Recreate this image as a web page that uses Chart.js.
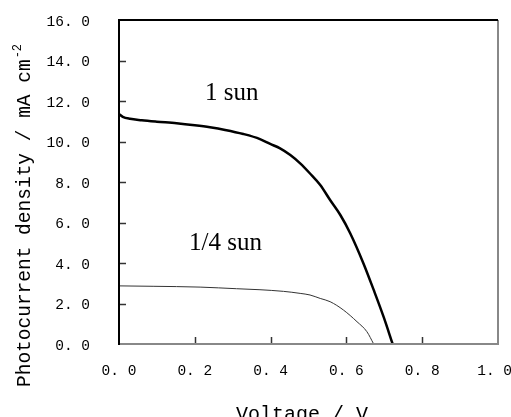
<!DOCTYPE html>
<html>
<head>
<meta charset="utf-8">
<script src="https://cdn.jsdelivr.net/npm/chart.js@4"></script>
<style>
  html, body { margin: 0; padding: 0; background: #fff; }
  #wrap { width: 511px; height: 417px; position: relative; }
</style>
</head>
<body>
<div id="wrap"><canvas id="jv"></canvas></div>
<script>
// Data
const fullSunV = [0, 0.01, 0.029, 0.06, 0.1, 0.152, 0.2, 0.24, 0.28, 0.328, 0.372, 0.399, 0.425, 0.452, 0.478, 0.504, 0.531, 0.557, 0.584, 0.61, 0.645, 0.672, 0.698, 0.722];
const fullSunJ = [11.36, 11.22, 11.12, 11.05, 10.98, 10.9, 10.8, 10.7, 10.57, 10.37, 10.12, 9.88, 9.66, 9.33, 8.92, 8.42, 7.85, 7.11, 6.37, 5.47, 3.98, 2.67, 1.35, 0.0];
const quarterSunV = [0, 0.09, 0.214, 0.31, 0.372, 0.434, 0.478, 0.504, 0.531, 0.557, 0.592, 0.628, 0.654, 0.672];
const quarterSunJ = [2.87, 2.85, 2.81, 2.73, 2.68, 2.6, 2.5, 2.42, 2.25, 2.09, 1.68, 1.1, 0.61, 0.0];

const xTicks = [0, 0.2, 0.4, 0.6, 0.8, 1.0];
const yTicks = [0, 2, 4, 6, 8, 10, 12, 14, 16];
const xTitle = 'Voltage / V';
const yTitle = 'Photocurrent density / mA cm';
const yTitleSup = '-2';
const curveLabels = ['1 sun', '1/4 sun'];

const monoFont = '"Liberation Mono", "DejaVu Sans Mono", monospace';
const serifFont = '"Liberation Serif", "Times New Roman", serif';

const toPoints = (xs, ys) => xs.map((x, i) => ({ x: x, y: ys[i] }));
const fmt = v => v.toFixed(1).replace('.', '. ');

// Frame, inner ticks, x tick labels, titles and curve labels
const decorations = {
    id: 'decorations',
    afterDatasetsDraw(chart) {
        const { ctx, chartArea: a, scales, width } = chart;
        const xs = scales.x, ys = scales.y;
        ctx.save();

        // inner tick marks
        ctx.strokeStyle = '#333';
        ctx.lineWidth = 1.5;
        yTicks.slice(1, -1).forEach(v => {
            const py = Math.round(ys.getPixelForValue(v)) + 0.5;
            ctx.beginPath(); ctx.moveTo(a.left, py); ctx.lineTo(a.left + 7, py); ctx.stroke();
        });
        xTicks.slice(1, -1).forEach(v => {
            const px = Math.round(xs.getPixelForValue(v)) + 0.5;
            ctx.beginPath(); ctx.moveTo(px, a.bottom); ctx.lineTo(px, a.bottom - 7); ctx.stroke();
        });

        // box
        ctx.lineWidth = 2;
        ctx.strokeStyle = '#888';
        ctx.beginPath(); ctx.moveTo(a.left, a.bottom); ctx.lineTo(a.right, a.bottom); ctx.lineTo(a.right, a.top); ctx.stroke();
        ctx.strokeStyle = '#000';
        ctx.beginPath(); ctx.moveTo(a.right, a.top); ctx.lineTo(a.left, a.top); ctx.lineTo(a.left, a.bottom + 1); ctx.stroke();

        // x tick labels (kept inside the canvas at the right edge)
        ctx.fillStyle = '#000';
        ctx.font = '14.5px ' + monoFont;
        ctx.textAlign = 'center';
        ctx.textBaseline = 'middle';
        xTicks.forEach(v => {
            const label = fmt(v);
            const half = ctx.measureText(label).width / 2;
            const px = Math.min(xs.getPixelForValue(v), width - half + 1);
            ctx.fillText(label, px, 371);
        });

        // curve labels
        ctx.font = '25px ' + serifFont;
        ctx.textAlign = 'left';
        ctx.textBaseline = 'alphabetic';
        ctx.fillText(curveLabels[0], 205, 100);
        ctx.fillText(curveLabels[1], 189, 250);

        // x title
        ctx.font = '20px ' + monoFont;
        ctx.textAlign = 'center';
        ctx.fillText(xTitle, 302, 420);

        // y title with superscript
        ctx.translate(30, 387);
        ctx.rotate(-Math.PI / 2);
        ctx.textAlign = 'left';
        ctx.font = '19.5px ' + monoFont;
        ctx.fillText(yTitle, 0, 0);
        const w = ctx.measureText(yTitle).width;
        ctx.font = '12px ' + monoFont;
        ctx.fillText(yTitleSup, w + 1, -9);
        ctx.restore();
    }
};

const ctx = document.getElementById('jv').getContext('2d');

new Chart(ctx, {
    type: 'scatter',
    data: {
        datasets: [
            {
                label: curveLabels[0],
                data: toPoints(fullSunV, fullSunJ),
                showLine: true,
                borderColor: '#000',
                borderWidth: 2.5,
                pointRadius: 0,
                cubicInterpolationMode: 'monotone'
            },
            {
                label: curveLabels[1],
                data: toPoints(quarterSunV, quarterSunJ),
                showLine: true,
                borderColor: '#333',
                borderWidth: 1,
                pointRadius: 0,
                cubicInterpolationMode: 'monotone'
            }
        ]
    },
    options: {
        responsive: true,
        maintainAspectRatio: false,
        animation: false,
        layout: { padding: { top: 20, right: 13, left: 0, bottom: 0 } },
        plugins: {
            legend: { display: false },
            tooltip: { enabled: false }
        },
        scales: {
            x: {
                type: 'linear',
                min: 0, max: 1,
                afterBuildTicks: s => { s.ticks = xTicks.map(v => ({ value: v })); },
                afterFit: s => { s.height = 73; s.paddingLeft = 0; s.paddingRight = 0; },
                grid: { display: false, drawTicks: false },
                border: { display: false },
                ticks: { display: false }
            },
            y: {
                type: 'linear',
                min: 0, max: 16,
                afterBuildTicks: s => { s.ticks = yTicks.map(v => ({ value: v })); },
                afterFit: s => { s.width = 119; s.paddingTop = 0; s.paddingBottom = 0; },
                grid: { display: false, drawTicks: false },
                border: { display: false },
                ticks: {
                    padding: 29,
                    labelOffset: 2,
                    color: '#000',
                    font: { family: monoFont, size: 14.5 },
                    callback: v => fmt(v)
                }
            }
        }
    },
    plugins: [decorations]
});
</script>
</body>
</html>
